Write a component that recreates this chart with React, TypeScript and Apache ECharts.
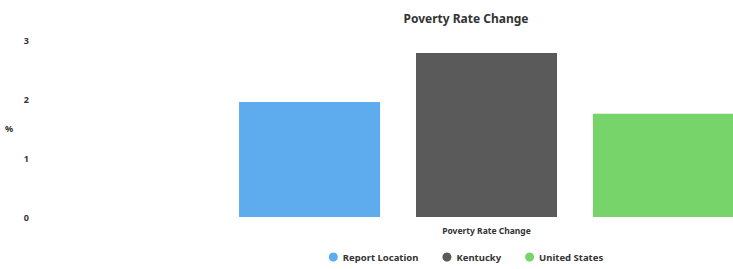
import React, { useEffect, useRef } from "react";
import * as echarts from "echarts";

const categories = ["Poverty Rate Change"];
const seriesNames = ["Report Location", "Kentucky", "United States"];
const seriesValues = [[1.95], [2.78], [1.75]];
const seriesColors = ["#5eabed", "#5a5a5a", "#77d46b"];
const yTicks = { min: 0, max: 3, interval: 1 };

export default function App() {
  const ref = useRef<HTMLDivElement>(null);
  useEffect(() => {
    if (!ref.current) return;
    const chart = echarts.init(ref.current, null, { renderer: "svg" });
    const font = "'Noto Sans', 'DejaVu Sans', sans-serif";
    chart.setOption({
      animation: false,
      textStyle: { fontFamily: font },
      title: {
        text: "Poverty Rate Change",
        left: "center",
        top: 7,
        textStyle: { fontSize: 12, fontWeight: "bold", color: "#333", fontFamily: font },
      },
      legend: {
        data: seriesNames,
        left: "center",
        bottom: 2,
        icon: "circle",
        itemWidth: 9,
        itemHeight: 9,
        itemGap: 24,
        textStyle: { fontSize: 9.5, fontWeight: "bold", color: "#333", fontFamily: font },
      },
      grid: { left: 46, width: 881, top: 40, height: 177 },
      xAxis: {
        type: "category",
        data: categories,
        axisLine: { show: false },
        axisTick: { show: false },
        axisLabel: { fontSize: 8.5, fontWeight: "bold", color: "#333", margin: 9 },
      },
      yAxis: {
        type: "value",
        min: yTicks.min,
        max: yTicks.max,
        interval: yTicks.interval,
        name: "%",
        nameLocation: "middle",
        nameGap: 33,
        nameRotate: 0,
        nameTextStyle: { fontSize: 9, fontWeight: "bold", color: "#333" },
        splitLine: { show: false },
        axisLine: { show: false },
        axisTick: { show: false },
        axisLabel: { fontSize: 9, fontWeight: "bold", color: "#333", margin: 17 },
      },
      series: seriesNames.map((name, i) => ({
        name,
        type: "bar",
        data: seriesValues[i],
        barWidth: 141,
        barGap: "25.5%",
        itemStyle: { color: seriesColors[i] },
      })),
    });
    return () => chart.dispose();
  }, []);
  return (
    <div style={{ position: "absolute", left: 0, top: 0, width: 733, height: 269, overflow: "hidden", background: "#fff" }}>
      <div ref={ref} style={{ width: 932, height: 269 }} />
    </div>
  );
}
